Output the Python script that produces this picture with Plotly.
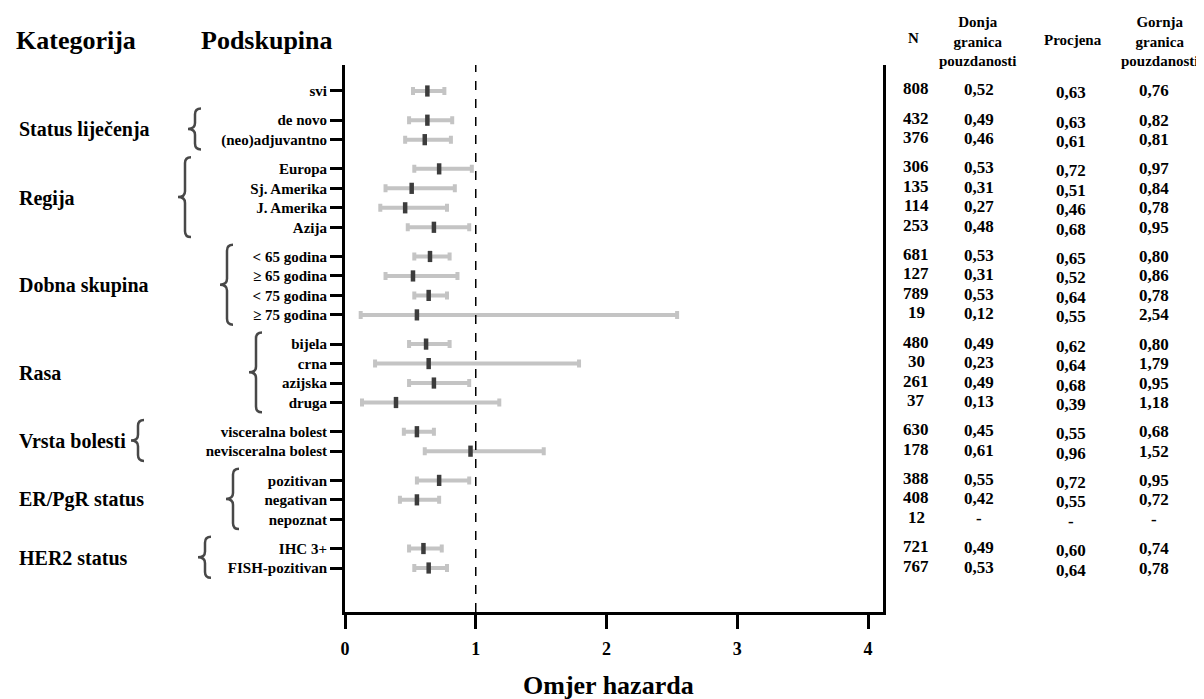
import plotly.graph_objects as go

# ---------------- data ----------------
subgroups = ["svi", "de novo", "(neo)adjuvantno", "Europa", "Sj. Amerika", "J. Amerika", "Azija",
             "< 65 godina", "≥ 65 godina", "< 75 godina", "≥ 75 godina",
             "bijela", "crna", "azijska", "druga",
             "visceralna bolest", "nevisceralna bolest",
             "pozitivan", "negativan", "nepoznat",
             "IHC 3+", "FISH-pozitivan"]
group_of = [0, 1, 1, 2, 2, 2, 2, 3, 3, 3, 3, 4, 4, 4, 4, 5, 5, 6, 6, 6, 7, 7]
categories = ["", "Status liječenja", "Regija", "Dobna skupina", "Rasa",
              "Vrsta bolesti", "ER/PgR status", "HER2 status"]
n_vals = [808, 432, 376, 306, 135, 114, 253, 681, 127, 789, 19, 480, 30, 261, 37,
          630, 178, 388, 408, 12, 721, 767]
lower = [0.52, 0.49, 0.46, 0.53, 0.31, 0.27, 0.48, 0.53, 0.31, 0.53, 0.12, 0.49, 0.23,
         0.49, 0.13, 0.45, 0.61, 0.55, 0.42, None, 0.49, 0.53]
estimate = [0.63, 0.63, 0.61, 0.72, 0.51, 0.46, 0.68, 0.65, 0.52, 0.64, 0.55, 0.62, 0.64,
            0.68, 0.39, 0.55, 0.96, 0.72, 0.55, None, 0.60, 0.64]
upper = [0.76, 0.82, 0.81, 0.97, 0.84, 0.78, 0.95, 0.80, 0.86, 0.78, 2.54, 0.80, 1.79,
         0.95, 1.18, 0.68, 1.52, 0.95, 0.72, None, 0.74, 0.78]
x_ticks = [0, 1, 2, 3, 4]
x_title = "Omjer hazarda"
reference_hr = 1

# ---------------- layout helpers ----------------
OFF = 8  # page body margin
W, H = 1204 - OFF, 699 - OFF
L, R, T, B = 345 - OFF, 883 - OFF, 65 - OFF, 612 - OFF
FONT = "Liberation Serif"


def px(x):
    # x given in screenshot pixels
    return (x - OFF - L) / (R - L)


def py(y):
    return (B - (y - OFF)) / (B - T)


rows = [i + 0.5 * g for i, g in enumerate(group_of)]

plus = [None if (u is None) else u - e for u, e in zip(upper, estimate)]
minus = [None if (l is None) else e - l for l, e in zip(lower, estimate)]

fig = go.Figure()
fig.add_trace(go.Scatter(
    x=estimate, y=rows, mode="markers",
    marker=dict(symbol="line-ns", size=8, color="#3c3c3c",
                line=dict(width=4.5, color="#3c3c3c")),
    error_x=dict(type="data", symmetric=False, array=plus, arrayminus=minus,
                 color="#c4c4c4", thickness=4, width=4),
    showlegend=False, hoverinfo="skip"))


def fmt(v):
    return "-" if v is None else f"{v:.2f}".replace(".", ",")


ann = []
# headers
ann.append(dict(text="<b>Kategorija</b>", x=px(14), y=py(40), xanchor="left",
                font=dict(size=26)))
ann.append(dict(text="<b>Podskupina</b>", x=px(199), y=py(40), xanchor="left",
                font=dict(size=26)))
ann.append(dict(text="<b>N</b>", x=px(913), y=py(38), font=dict(size=15)))
ann.append(dict(text="<b>Donja<br>granica<br>pouzdanosti</b>", x=px(978), y=py(42),
                font=dict(size=15)))
ann.append(dict(text="<b>Procjena</b>", x=px(1073), y=py(40), font=dict(size=15)))
ann.append(dict(text="<b>Gornja<br>granica<br>pouzdanosti</b>", x=px(1160), y=py(42),
                font=dict(size=15)))
ann.append(dict(text=f"<b>{x_title}</b>", x=px(608), y=py(685), font=dict(size=26)))

# category labels (centered on their groups)
for g, cat in enumerate(categories):
    if not cat:
        continue
    ys = [r for r, gg in zip(rows, group_of) if gg == g]
    ann.append(dict(text=f"<b>{cat}</b>", x=px(17), y=(min(ys) + max(ys)) / 2,
                    yref="y", xanchor="left", font=dict(size=20)))

# table values
for r, n, lo, es, up in zip(rows, n_vals, lower, estimate, upper):
    ann.append(dict(text=f"<b>{n}</b>", x=px(916), y=r, yref="y", yshift=2,
                    font=dict(size=17)))
    ann.append(dict(text=f"<b>{fmt(lo)}</b>", x=px(979), y=r, yref="y", yshift=1,
                    font=dict(size=17)))
    ann.append(dict(text=f"<b>{fmt(es)}</b>", x=px(1071), y=r, yref="y", yshift=-2,
                    font=dict(size=17)))
    ann.append(dict(text=f"<b>{fmt(up)}</b>", x=px(1154), y=r, yref="y", yshift=0,
                    font=dict(size=17)))

for a in ann:
    a.setdefault("xref", "paper")
    a.setdefault("yref", "paper")
    a.setdefault("xanchor", "center")
    a["showarrow"] = False
    a["yanchor"] = "middle"
    a["font"] = dict(family=FONT, color="black", **a["font"])

# braces (x of the vertical stroke, screenshot pixels)
brace_x = {1: 195, 2: 185, 3: 227, 4: 256, 5: 138, 6: 233, 7: 205}
shapes = []
for g, bx in brace_x.items():
    ys = [r for r, gg in zip(rows, group_of) if gg == g]
    top, bot = min(ys) - 0.6, max(ys) + 0.5
    mid = (top + bot) / 2
    x0 = px(bx)
    xh = px(bx + 6)
    xn = px(bx - 7)
    c = 0.3
    path = (f"M {xh},{top} Q {x0},{top} {x0},{top + c} "
            f"L {x0},{mid - c} Q {x0},{mid} {xn},{mid} "
            f"Q {x0},{mid} {x0},{mid + c} "
            f"L {x0},{bot - c} Q {x0},{bot} {xh},{bot}")
    shapes.append(dict(type="path", path=path, xref="paper", yref="y",
                       line=dict(color="#484848", width=2.5)))

shapes.append(dict(type="line", x0=reference_hr, x1=reference_hr, y0=0, y1=1,
                   xref="x", yref="paper",
                   line=dict(color="black", width=1.5, dash="dash")))

fig.update_layout(
    width=W, height=H,
    margin=dict(l=L, r=W - R, t=T, b=H - B, pad=0, autoexpand=False),
    plot_bgcolor="white", paper_bgcolor="white",
    font=dict(family=FONT, color="black"),
    annotations=ann, shapes=shapes,
    xaxis=dict(range=[0, (R - L) / 130.75], tickvals=x_ticks,
               ticktext=[f"<b>{v}</b>" for v in x_ticks],
               showline=True, linewidth=3, linecolor="black",
               ticks="outside", ticklen=14, tickwidth=2.5, tickcolor="black",
               ticklabelstandoff=4, automargin=False,
               tickfont=dict(size=18, family=FONT),
               showgrid=False, zeroline=False),
    yaxis=dict(range=[26.76, -1.335], tickvals=rows,
               ticktext=[f"<b>{s}</b>" for s in subgroups],
               showline=True, linewidth=3, linecolor="black", mirror=True,
               ticks="outside", ticklen=12, tickwidth=3, tickcolor="black",
               automargin=False,
               tickfont=dict(size=15, family=FONT),
               showgrid=False, zeroline=False),
)

fig.write_html("out.html")
